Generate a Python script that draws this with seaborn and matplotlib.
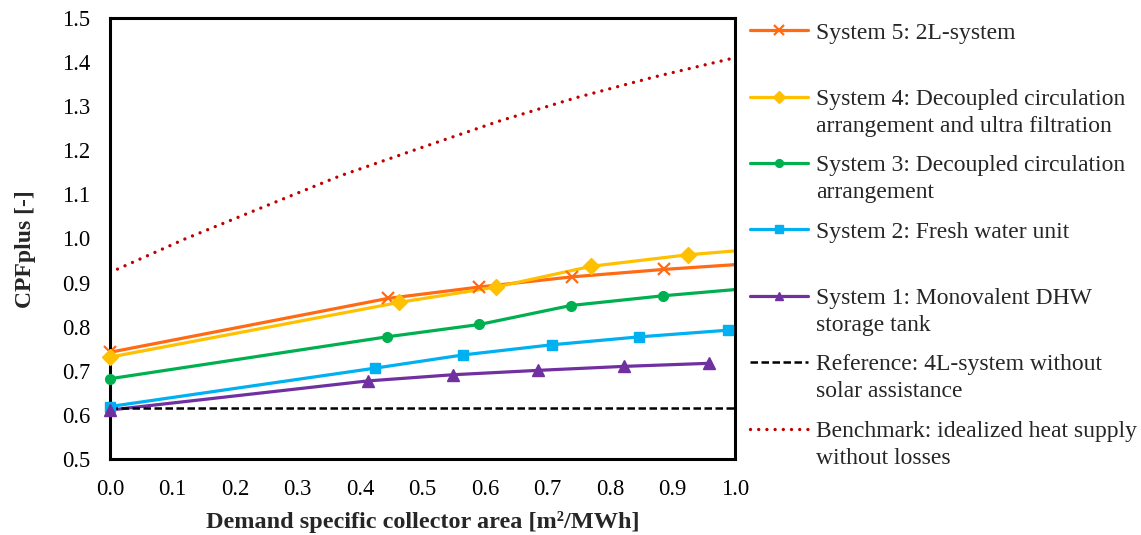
import matplotlib
matplotlib.use("Agg")
import matplotlib.pyplot as plt
from matplotlib.lines import Line2D
import seaborn as sns
import pandas as pd

# ---------------- data ----------------
sys5_x = [0.0, 0.444, 0.591, 0.739, 0.887, 1.035]
sys5_y = [0.742, 0.864, 0.890, 0.913, 0.930, 0.944]

sys4_x = [0.0, 0.462, 0.618, 0.770, 0.924, 1.078]
sys4_y = [0.731, 0.855, 0.890, 0.937, 0.963, 0.981]

sys3_x = [0.0, 0.443, 0.591, 0.737, 0.884, 1.031]
sys3_y = [0.682, 0.777, 0.805, 0.848, 0.870, 0.888]

sys2_x = [0.0, 0.424, 0.565, 0.707, 0.847, 0.988]
sys2_y = [0.619, 0.706, 0.736, 0.759, 0.777, 0.792]

sys1_x = [0.0, 0.412, 0.548, 0.685, 0.822, 0.959]
sys1_y = [0.611, 0.677, 0.691, 0.701, 0.710, 0.717]

ref_x = [0.0, 1.0]
ref_y = [0.615, 0.615]

bench_x = [0.0, 0.12, 0.248, 0.368, 0.496, 0.62, 0.745, 0.87, 1.0]
bench_y = [0.923, 0.999, 1.073, 1.142, 1.205, 1.265, 1.319, 1.366, 1.410]

labels = [
    ("System 5: 2L-system", None),
    ("System 4: Decoupled circulation", "arrangement and ultra filtration"),
    ("System 3: Decoupled circulation", "arrangement"),
    ("System 2: Fresh water unit", None),
    ("System 1: Monovalent DHW", "storage tank"),
    ("Reference: 4L-system without", "solar assistance"),
    ("Benchmark: idealized heat supply", "without losses"),
]

x_ticks = [0.0, 0.1, 0.2, 0.3, 0.4, 0.5, 0.6, 0.7, 0.8, 0.9, 1.0]
y_ticks = [0.5, 0.6, 0.7, 0.8, 0.9, 1.0, 1.1, 1.2, 1.3, 1.4, 1.5]

# ---------------- style ----------------
sns.set_theme(style="white")
plt.rcParams["font.family"] = ["Liberation Serif", "DejaVu Serif"]

W, H = 1141, 535
fig = plt.figure(figsize=(W / 100, H / 100), dpi=100)
ax = fig.add_axes([110 / W, 1 - 459 / H, (735 - 110) / W, (459 - 18) / H])

series = [
    (sys5_x, sys5_y, "#FF6A13", "x", 8.5, 1.6),
    (sys4_x, sys4_y, "#FFC000", "D", 8, 1.0),
    (sys3_x, sys3_y, "#00B050", "o", 7, 1.0),
    (sys2_x, sys2_y, "#00B0F0", "s", 7, 1.0),
    (sys1_x, sys1_y, "#7030A0", "^", 8, 1.0),
]

LW = 2.3
handles = []
for xs, ys, col, mk, ms, mew in series:
    df = pd.DataFrame({"x": xs, "y": ys})
    sns.lineplot(data=df, x="x", y="y", ax=ax, color=col, lw=LW,
                 sort=False, estimator=None, legend=False)
    inside = df[df["x"] <= 1.0]
    ax.plot(inside["x"], inside["y"], linestyle="none", marker=mk, ms=ms,
            color=col, mec=col, mew=mew, clip_on=False, zorder=5)
    handles.append(Line2D([], [], color=col, lw=LW, marker=mk,
                          ms=ms * 0.8, mew=mew, markevery=[1]))

dref = pd.DataFrame({"x": ref_x, "y": ref_y})
sns.lineplot(data=dref, x="x", y="y", ax=ax, color="black", lw=1.8,
             legend=False, estimator=None)
ax.lines[-1].set_dashes([3.0, 1.4])
handles.append(Line2D([], [], color="black", lw=1.8, dashes=[3.0, 1.4]))

dben = pd.DataFrame({"x": bench_x, "y": bench_y})
sns.lineplot(data=dben, x="x", y="y", ax=ax, color="#C00000", lw=2.4,
             legend=False, estimator=None)
ax.lines[-1].set_dashes([0.01, 2.45])
ax.lines[-1].set_dash_capstyle("round")
bh = Line2D([], [], color="#C00000", lw=2.4, dashes=[0.01, 2.45])
bh.set_dash_capstyle("round")
handles.append(bh)

# ---------------- axes ----------------
ax.set_xlim(0, 1.0)
ax.set_ylim(0.5, 1.5)
ax.set_xticks(x_ticks)
ax.set_yticks(y_ticks)
ax.set_xticklabels([f"{v:.1f}" for v in x_ticks])
ax.set_yticklabels([f"{v:.1f}" for v in y_ticks])
ax.tick_params(axis="both", direction="in", length=6, width=1.6,
               labelsize=16.3, colors="black")
ax.tick_params(axis="x", pad=14.5)
ax.tick_params(axis="y", pad=14.0)
for s in ax.spines.values():
    s.set_visible(True)
    s.set_color("black")
    s.set_linewidth(2.2)
ax.grid(False)
ax.set_xlabel("Demand specific collector area [m²/MWh]", fontsize=17.5,
              fontweight="bold")
ax.set_ylabel("CPFplus [-]", fontsize=17, fontweight="bold")
ax.xaxis.set_label_coords(0.5, -0.117)
ax.yaxis.set_label_coords(-0.118, 0.475)

# ---------------- legend ----------------
LFS = 17
leg = fig.legend(handles, [a for a, b in labels], loc="upper left",
                 bbox_to_anchor=(750 / W, 1 - 22 / H), frameon=False,
                 fontsize=LFS, handlelength=2.45, handletextpad=0.33,
                 labelspacing=1.9, borderaxespad=0, borderpad=0)

fig.canvas.draw()
for txt, (first, second) in zip(leg.get_texts(), labels):
    if second:
        bb = txt.get_window_extent()
        base1 = bb.y0 + 0.216 * LFS * 100 / 72
        fig.text(bb.x0 / W, (base1 - 27) / H, second, fontsize=LFS,
                 va="baseline", ha="left")

fig.savefig("out.png", dpi=100)
